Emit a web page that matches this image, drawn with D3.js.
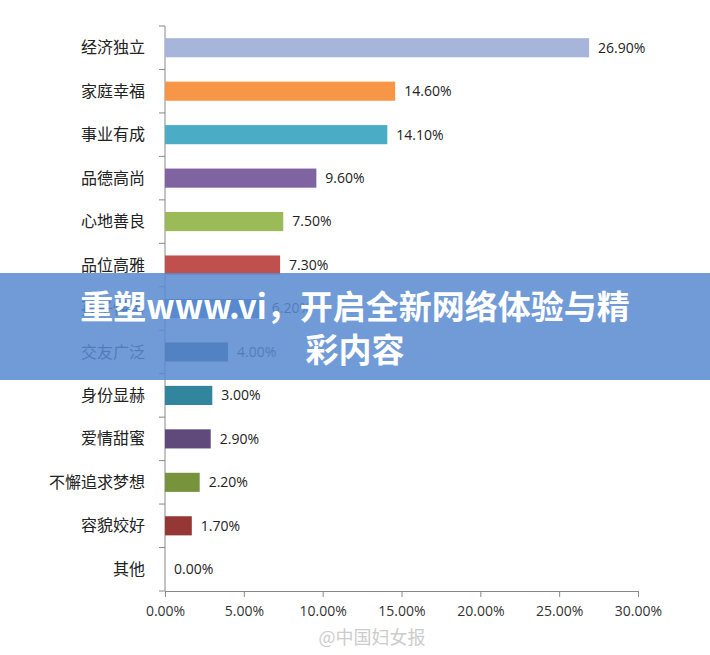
<!DOCTYPE html>
<html><head><meta charset="utf-8">
<script src="https://cdn.jsdelivr.net/npm/d3@7"></script>
<style>body{margin:0;background:#fff}svg{display:block}</style>
</head><body>
<script>
const categories=["经济独立","家庭幸福","事业有成","品德高尚","心地善良","品位高雅","孩子懂事","交友广泛","身份显赫","爱情甜蜜","不懈追求梦想","容貌姣好","其他"];
const values=[26.9,14.6,14.1,9.6,7.5,7.3,6.2,4.0,3.0,2.9,2.2,1.7,0.0];
const colors=["#a7b5da","#f79646","#4bacc6","#8064a2","#9bbb59","#c0504d","#4f81bd","#2c4d75","#31859c","#604a7b","#77933c","#953735","#aaa"];
const ticks=[0,5,10,15,20,25,30];
const W=710,H=655;
const svg=d3.select("body").append("svg").attr("width",W).attr("height",H);
const x=d3.scaleLinear().domain([0,30]).range([165,638]);
const y=d3.scaleBand().domain(categories).range([26,591]).paddingInner(0.56).paddingOuter(0.28);
const yb=d3.scaleBand().domain(categories).range([26,591]);
svg.append("g").attr("transform","translate(0,591)")
 .call(d3.axisBottom(x).tickValues(ticks).tickFormat(d=>d.toFixed(2)+"%").tickSize(6).tickSizeOuter(0))
 .call(g=>{g.select(".domain").attr("stroke","#888");g.selectAll("line").attr("stroke","#888");
  g.selectAll("text").attr("font-family","Open Sans, sans-serif").attr("font-size",14).attr("fill","#333").attr("dy","1.15em");});
svg.append("line").attr("x1",165).attr("x2",165).attr("y1",26).attr("y2",591).attr("stroke","#888");
svg.selectAll(".yt").data(d3.range(categories.length+1)).join("line")
 .attr("x1",159).attr("x2",165).attr("y1",i=>26+i*yb.step()).attr("y2",i=>26+i*yb.step()).attr("stroke","#888");
svg.selectAll(".bar").data(categories).join("rect")
 .attr("x",x(0)).attr("y",d=>y(d)).attr("height",y.bandwidth())
 .attr("width",(d,i)=>x(values[i])-x(0)).attr("fill",(d,i)=>colors[i]);
svg.selectAll(".lab").data(categories).join("text")
 .attr("x",145).attr("y",d=>y(d)+y.bandwidth()/2).attr("dy","0.35em").attr("text-anchor","end")
 .attr("font-family","Noto Sans CJK SC").attr("font-size",16).attr("fill","#222").text(d=>d);
svg.selectAll(".val").data(categories).join("text")
 .attr("x",(d,i)=>x(values[i])+9).attr("y",d=>y(d)+y.bandwidth()/2).attr("dy","0.35em")
 .attr("font-family","Open Sans, sans-serif").attr("font-size",14).attr("fill","#222").text((d,i)=>values[i].toFixed(2)+"%");
svg.append("text").attr("x",372).attr("y",644).attr("text-anchor","middle").attr("font-family","Noto Sans CJK SC")
 .attr("font-size",18).attr("fill","#ccc").text("@中国妇女报");
svg.append("rect").attr("x",0).attr("y",273).attr("width",W).attr("height",107).attr("fill","#5a8bd0").attr("opacity",0.86);
const t=svg.append("text").attr("font-family","Noto Sans CJK SC").attr("font-weight","bold").attr("font-size",33).attr("fill","#fff").attr("text-anchor","middle");
t.append("tspan").attr("x",355).attr("y",319).text("重塑www.vi，开启全新网络体验与精");
t.append("tspan").attr("x",355).attr("y",362).text("彩内容");
</script>
</body></html>
